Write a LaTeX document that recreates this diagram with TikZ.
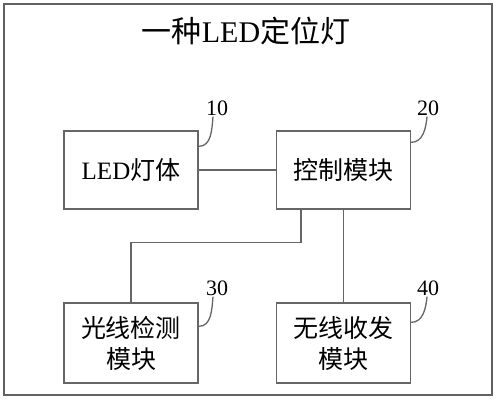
\documentclass[tikz,border=0pt]{standalone}
\usepackage{fontspec}
\setmainfont{Liberation Serif}
\newfontfamily\cjk{Noto Sans CJK SC}
\usetikzlibrary{positioning}
\def\boxfont{\fontsize{25}{31}\selectfont}
\def\tagfont{\fontsize{22}{24}\selectfont}
\colorlet{frame edge}{black!62}
\colorlet{block edge}{black!60}
\tikzset{block/.style={draw=block edge, line width=1.3pt, minimum width=134pt, minimum height=78pt, align=center, font=\boxfont, inner sep=0pt},
	wire/.style={draw=block edge, line width=1.3pt},
	tag/.style={font=\tagfont, inner sep=1pt}}

\begin{document}
\begin{tikzpicture}[x=1pt,y=-1pt]
		\useasboundingbox (0,0) rectangle (496,400);
		\draw[frame edge, line width=1.3pt] (4,4) rectangle (492,395);
		\node[font=\fontsize{30}{32}\selectfont] (title) at (246,31) {{\cjk 一种}LED{\cjk 定位灯}};
		
		\node[block] (lamp) at (131,170) {LED{\cjk 灯体}};
		\node[block] (ctrl) at (343.5,170) {\cjk 控制模块};
		\node[block, minimum height=80pt] (sensor) at (131,343) {\cjk 光线检测\\\cjk 模块};
		\node[block, minimum height=80pt] (radio) at (343.5,343) {\cjk 无线收发\\\cjk 模块};
		
		\node[tag] (t10) at (217,108) {10};
		\node[tag] (t20) at (428,108) {20};
		\node[tag] (t30) at (217,288) {30};
		\node[tag] (t40) at (428,288) {40};
		
		\draw[wire] (lamp) -- (ctrl);
		\draw[wire] ([xshift=-42.5pt]ctrl.south) -- ++(0,33) -| (sensor.north);
		\draw[wire] (ctrl.south) -- (radio.north);
		
		\draw[wire] ([yshift=-16pt]lamp.north east) to[out=0,in=-95] ([xshift=-4pt]t10.south);
		\draw[wire] ([yshift=-12pt]ctrl.north east) to[out=0,in=-95] ([xshift=-1pt]t20.south);
		\draw[wire] ([yshift=-24pt]sensor.north east) to[out=0,in=-95] ([xshift=-4pt]t30.south);
		\draw[wire] ([yshift=-20pt]radio.north east) to[out=0,in=-95] ([xshift=-1pt]t40.south);
		\end{tikzpicture}
\end{document}
